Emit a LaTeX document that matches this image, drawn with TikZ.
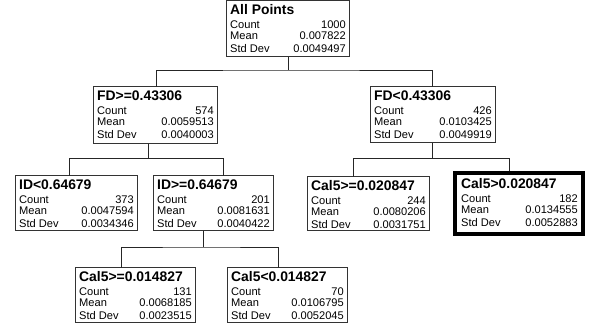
\documentclass[tikz,border=0pt]{standalone}
\usepackage{fontspec}
\setmainfont{Liberation Sans}
\usetikzlibrary{calc}

\tikzset{
  statbox/.style={draw=black!80, line width=1pt, inner sep=0pt, outer sep=0pt, anchor=north west},
  bestbox/.style={statbox, draw=black, line width=4pt},
  ttl/.style={anchor=base west, inner sep=0pt, font=\fontsize{13.9}{14}\selectfont\bfseries},
  lbl/.style={anchor=base west, inner sep=0pt, font=\fontsize{11.1}{12}\selectfont},
  val/.style={anchor=base east, inner sep=0pt, font=\fontsize{11.1}{12}\selectfont},
  link/.style={draw=black!85, line width=0.9pt},
}

% Box style and inner padding used by \statnode
\def\boxstyle{statbox}
\def\pad{0}

% #1 name, #2 left, #3 top, #4 width, #5 height, #6 title, #7 count, #8 mean, #9 std dev
\newcommand\statnode[9]{%
  \node[\boxstyle, minimum width=#4pt, minimum height=#5pt] (#1) at (#2,#3) {};
  \node[ttl] (#1-t)  at ($(#1.north west)+(4+\pad,13.5+\pad)$) {#6};
  \node[lbl] (#1-cl) at ($(#1.north west)+(4+\pad,28+\pad)$) {Count};
  \node[val] (#1-cv) at ($(#1.north east)+(-3-\pad,28+\pad)$) {#7};
  \node[lbl] (#1-ml) at ($(#1.north west)+(4+\pad,39+\pad)$) {Mean};
  \node[val] (#1-mv) at ($(#1.north east)+(-3-\pad,39+\pad)$) {#8};
  \node[lbl] (#1-sl) at ($(#1.north west)+(4+\pad,51.5+\pad)$) {Std Dev};
  \node[val] (#1-sv) at ($(#1.north east)+(-3-\pad,51.5+\pad)$) {#9};
}

\begin{document}
\begin{tikzpicture}[x=1pt, y=-1pt]
\useasboundingbox (0,0) rectangle (592,328);

% tree nodes
\statnode{all}{226}{1}{123}{56}{All Points}{1000}{0.007822}{0.0049497}
\statnode{fdge}{93}{87}{124}{57}{FD>=0.43306}{574}{0.0059513}{0.0040003}
\statnode{fdlt}{370}{87}{125}{56}{FD<0.43306}{426}{0.0103425}{0.0049919}
\statnode{idlt}{15}{176}{122}{55}{ID<0.64679}{373}{0.0047594}{0.0034346}
\statnode{idge}{153}{176}{120}{55}{ID>=0.64679}{201}{0.0081631}{0.0040422}
\statnode{calA}{307}{177}{122}{54}{Cal5>=0.020847}{244}{0.0080206}{0.0031751}
{\def\boxstyle{bestbox}\def\pad{2}%
\statnode{calB}{455}{173}{128}{61}{Cal5>0.020847}{182}{0.0134555}{0.0052883}}
\statnode{calC}{75}{268}{120}{55}{Cal5>=0.014827}{131}{0.0068185}{0.0023515}
\statnode{calD}{227}{268}{120}{55}{Cal5<0.014827}{70}{0.0106795}{0.0052045}

% attachment points on the boxes
\coordinate (all-out)  at ($(all.south west)+(62,0)$);
\coordinate (fdge-in)  at ($(fdge.north west)+(63,0)$);
\coordinate (fdge-out) at ($(fdge.south west)+(55,0)$);
\coordinate (fdlt-in)  at ($(fdlt.north west)+(62,0)$);
\coordinate (fdlt-out) at ($(fdlt.south west)+(62,0)$);
\coordinate (idlt-in)  at ($(idlt.north west)+(54,0)$);
\coordinate (idge-in)  at ($(idge.north west)+(70,0)$);
\coordinate (idge-out) at ($(idge.south west)+(50,0)$);
\coordinate (calA-in)  at ($(calA.north west)+(46,0)$);
\coordinate (calB-in)  at ($(calB.north west)+(54,-2)$);
\coordinate (calC-in)  at ($(calC.north west)+(46,0)$);
\coordinate (calD-in)  at ($(calD.north west)+(51,0)$);

% elbow connectors
\draw[link] (all-out) -- ++(0,13) coordinate (all-bus);
\draw[link] (fdge-in) |- (all-bus) -| (fdlt-in);

\draw[link] (fdge-out) -- ++(0,14.5) coordinate (fdge-bus);
\draw[link] (idlt-in) |- (fdge-bus) -| (idge-in);

\draw[link] (fdlt-out) -- ++(0,15.5) coordinate (fdlt-bus);
\draw[link] (calA-in) |- (fdlt-bus) -| (calB-in);

\draw[link] (idge-out) -- ++(0,16) coordinate (idge-bus);
\draw[link] (calC-in) |- (idge-bus) -| (calD-in);
\end{tikzpicture}
\end{document}
